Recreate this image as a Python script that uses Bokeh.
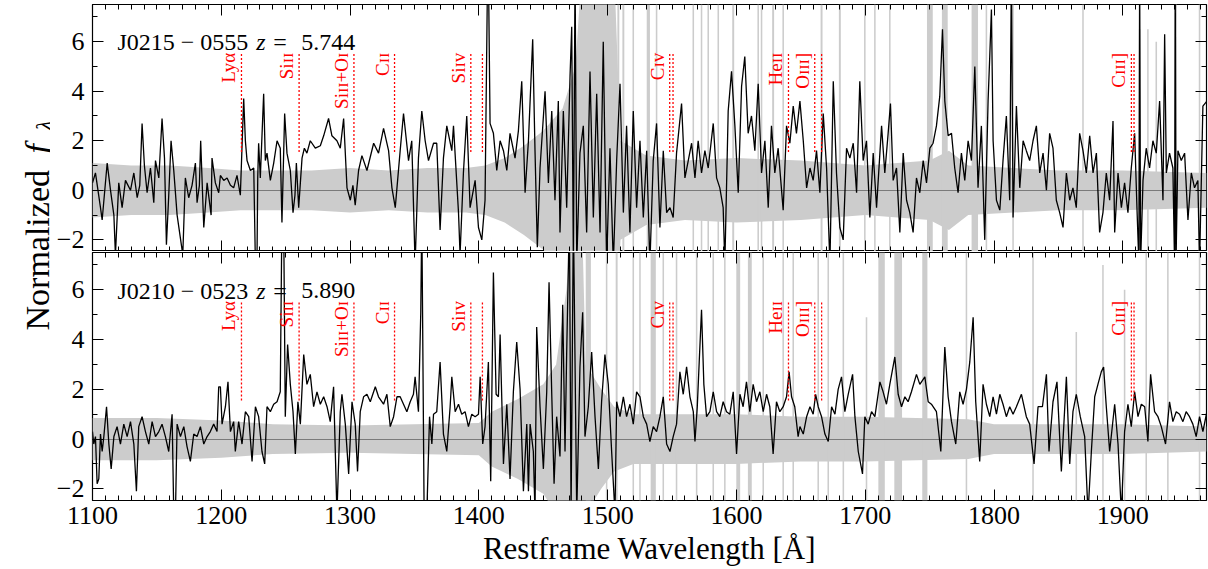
import numpy as np
from bokeh.plotting import figure
from bokeh.models import Range1d, LinearAxis, SingleIntervalTicker, Label
from bokeh.layouts import column, row
from bokeh.embed import file_html
from bokeh.resources import INLINE
from bokeh.core.properties import value

FONT = "Liberation Serif"

# ---------------- data: J0215-0555 (top) ----------------
wl_top = [1100.0,1102.3,1106.2,1107.5,1111.4,1114.0,1116.6,1117.8,1120.4,1123.0,1125.6,1129.5,1132.1,1134.7,1136.7,1138.5,1140.3,1142.4,1145.0,1147.6,1148.9,1151.5,1154.0,1155.9,1157.4,1159.2,1161.0,1163.1,1165.7,1170.1,1172.1,1174.7,1177.3,1179.9,1181.2,1183.0,1184.0,1186.4,1189.0,1192.1,1192.8,1195.4,1198.0,1199.3,1201.9,1204.5,1207.1,1209.6,1212.2,1214.8,1217.4,1218.7,1220.0,1222.6,1225.2,1226.5,1227.7,1228.3,1229.0,1230.3,1232.9,1234.2,1235.5,1238.1,1240.7,1243.3,1245.8,1247.1,1249.2,1251.0,1253.6,1255.7,1257.2,1258.3,1260.1,1262.7,1264.5,1266.5,1269.1,1273.0,1276.9,1279.5,1283.3,1285.9,1289.8,1292.4,1295.0,1297.6,1300.2,1302.2,1304.0,1306.6,1309.2,1313.1,1318.3,1322.1,1326.0,1329.9,1332.5,1335.1,
          1338.9,1341.5,1345.4,1347.9,1350.5,1353.1,1355.7,1358.3,1360.9,1364.8,1367.3,1369.9,1372.5,1375.1,1379.0,1380.3,1384.2,1385.4,1388.0,1390.6,1393.2,1397.1,1399.7,1402.3,1404.8,1406.7,1407.4,1408.7,1411.3,1413.9,1416.5,1419.1,1421.7,1424.2,1428.1,1430.7,1433.3,1435.9,1438.5,1441.8,1443.6,1445.4,1447.5,1451.4,1454.0,1456.6,1459.1,1461.7,1463.0,1465.6,1468.2,1470.8,1472.1,1473.4,1474.7,1476.0,1478.5,1481.1,1483.7,1486.3,1488.9,1491.5,1494.1,1496.6,1499.2,1501.8,1504.4,1507.0,1509.6,1512.2,1514.7,1517.3,1519.9,1522.5,1525.1,1527.7,1530.3,1532.8,1535.4,1538.0,1540.6,1543.2,1545.8,1548.4,1550.9,1553.5,1557.4,1560.0,1562.6,1565.2,1567.8,1570.3,1572.9,1575.5,1578.1,1582.0,1584.6,1587.1,1589.7,1591.0,1593.6,1596.2,1598.8,1601.4,1604.0,1606.5,1609.1,1611.7,1614.3,1616.9,1619.5,1622.1,1624.7,1627.2,1629.8,1632.4,1636.3,1638.9,1641.5,1644.1,1646.6,
          1649.3,1651.9,1654.5,1657.1,1659.6,1662.2,1664.8,1667.4,1670.0,1672.6,1675.2,1677.7,1680.3,1682.9,1685.5,1688.1,1690.7,1693.3,1695.8,1698.4,1701.0,1703.6,1706.2,1708.8,1712.7,1715.2,1717.8,1719.6,1721.7,1724.3,1726.9,1729.5,1732.1,1734.6,1737.2,1739.8,1742.4,1745.0,1747.6,1750.2,1752.7,1755.3,1757.9,1760.0,1761.8,1764.4,1767.0,1769.5,1772.1,1774.7,1777.3,1779.9,1782.5,1785.1,1787.6,1790.2,1792.8,1795.4,1796.7,1798.0,1799.3,1801.9,1804.5,1807.0,1809.6,1812.2,1813.5,1814.8,1817.4,1820.0,1822.6,1825.1,1827.7,1830.3,1832.9,1835.5,1838.1,1840.7,1843.2,1845.8,1848.4,1851.0,1853.6,1856.2,1858.8,1861.3,1863.9,1866.5,1869.1,1871.7,1874.3,1876.9,1879.5,1882.0,1884.6,1887.2,1889.8,1892.4,1893.7,1896.3,1898.9,1901.4,1904.0,1906.6,1909.2,1911.0,1912.5,1913.1,1913.8,1915.7,1918.2,1920.8,1923.4,1926.0,1928.6,1931.2,1932.5,1933.8,1936.3,1938.9,1940.2,1940.7,1941.3,1942.8,1945.4,1948.0,1950.6,1953.2,1955.7,1958.3,1959.6,1962.2,1965.3]
flux_top = [0.3,0.7,-0.7,-1.2,1.1,0.0,-1.0,-2.6,0.3,-0.7,0.4,0.0,0.7,-0.3,0.2,2.7,1.0,-0.1,0.9,-0.5,1.2,0.5,2.9,1.3,-2.2,-0.2,2.0,0.8,-1.0,-2.6,0.5,-0.3,0.2,1.1,-0.5,0.2,2.0,-1.5,0.3,-1.0,1.3,0.3,-0.1,0.6,0.4,0.5,0.2,0.1,0.6,-0.2,3.7,2.0,1.2,0.8,0.9,-3.0,-3.0,0.5,1.9,0.5,3.9,1.2,1.5,0.4,1.1,2.0,1.7,-1.3,3.1,1.5,0.8,-0.9,-0.2,1.1,-0.7,1.3,1.7,1.5,2.0,1.7,1.8,2.2,2.9,2.2,2.0,1.7,2.9,0.1,-0.4,0.2,-0.6,0.8,1.4,0.8,1.9,1.5,2.5,1.6,0.1,-0.7,
            1.6,3.1,1.2,2.0,-3.0,1.3,3.2,2.0,1.2,1.9,1.9,-1.6,1.3,2.6,1.6,2.6,-0.9,-2.6,0.7,3.0,-0.7,0.4,-1.5,-2.0,-0.4,8.5,9.0,2.7,2.3,0.8,2.0,1.6,0.8,2.3,1.3,2.4,4.4,-0.1,2.0,6.1,1.6,-2.3,0.9,4.0,0.3,3.2,-0.4,3.6,-1.7,3.2,-0.7,4.6,6.6,-3.0,9.0,-3.0,1.5,2.6,-1.7,4.8,-1.1,3.9,-1.7,6.0,-3.0,1.7,-3.0,1.2,4.3,-0.9,2.6,-1.7,3.2,-0.7,2.0,-1.1,1.6,-3.0,1.2,2.7,-1.5,1.6,-0.9,-0.7,-1.1,1.5,3.5,0.5,1.2,1.9,0.5,2.0,0.7,1.6,0.9,2.7,0.5,0.1,-0.7,-3.0,3.2,4.8,2.6,-0.1,4.2,5.4,2.3,3.0,1.6,4.3,0.7,2.0,-0.7,2.6,0.7,1.7,-0.8,2.6,1.9,3.4,2.3,
            3.6,2.0,0.1,0.9,0.4,1.6,-0.1,3.1,0.9,-3.0,4.4,0.7,-1.5,-2.0,1.7,1.3,1.9,-0.1,4.4,1.2,2.0,-1.1,1.5,-0.7,2.6,0.7,2.3,3.5,0.4,0.9,-1.7,1.5,-0.4,-0.9,-1.7,0.5,-0.1,1.2,0.3,1.7,1.9,2.6,3.8,6.5,3.6,2.2,2.3,0.9,-0.1,1.5,0.4,2.0,1.2,5.0,0.1,2.6,-2.0,3.6,5.4,7.3,2.0,-0.4,-0.8,1.2,3.0,-0.4,9.0,-1.1,3.4,0.1,2.0,1.6,1.2,2.0,2.6,0.7,1.5,0.0,2.3,1.7,-0.4,-0.9,-1.5,0.7,-0.4,0.1,-0.7,2.3,1.6,0.7,2.2,0.7,1.5,-1.7,-0.9,0.7,-0.4,2.8,-1.7,0.7,-0.7,0.3,-0.9,0.9,2.3,-0.7,-3.0,9.0,-3.0,0.4,1.7,0.9,2.0,1.5,3.6,-0.4,6.3,0.7,1.5,0.9,-3.0,9.0,-3.0,1.6,1.2,1.5,-1.2,0.7,0.1,0.4,-3.0,3.4,3.6]

err_top_wl = [1100,1130,1160,1190,1215,1240,1270,1300,1330,1360,1390,1405,1420,1435,1450,1465,1475,1480,1505,1510,1530,1560,1600,1650,1700,1750,1765,1780,1850,1900,1965]
err_top = [1.1,1.0,1.0,0.9,0.8,0.8,0.8,0.9,0.8,0.9,0.9,1.0,1.3,1.8,2.4,3.3,5.0,9.0,9.0,2.0,1.4,1.2,1.3,1.2,1.0,1.2,1.6,1.0,0.8,0.8,0.7]

sky_top_wl = [1508.3,1512.2,1519.9,1531.6,1538.0,1566.5,1572.9,1578.1,1585.9,1597.5,1616.9,1619.5,1628.5,1636.3,1666.1,1680.3,1699.7,1707.5,1719.1,1750.2,1761.8,1785.1,1794.1,1814.8,1869.1,1913.1,1919.5,1926.0,1941.5,1959.6]
sky_top_h = [9,9,9,9,9,9,9,9,9,9,9,9,9,9,9,9,9,9,9,9,9,9,9,9,9,6.5,6.5,6,9,9]
sky_top_w = [1.5,1.5,1.2,2.5,1.2,1.2,1.2,1.2,1.2,1.5,1.2,1.2,1.5,1.2,1.5,1.5,1.2,1.2,1.2,4.5,4.5,5.0,1.2,1.2,1.2,1.2,1.2,1.2,1.2,1.2]

# ---------------- data: J0210-0523 (bottom) ----------------
wl_bot = [1100.0,1101.0,1102.3,1103.6,1104.9,1106.2,1107.5,1108.8,1110.9,1112.7,1114.5,1116.6,1119.1,1121.7,1124.3,1126.9,1129.5,1132.1,1134.1,1135.9,1138.5,1141.1,1143.7,1146.3,1148.9,1151.5,1154.0,1156.6,1159.2,1161.8,1163.1,1164.4,1165.7,1168.3,1170.9,1173.4,1176.0,1178.6,1181.2,1183.8,1186.4,1189.0,1191.5,1194.1,1196.7,1198.0,1199.3,1200.6,1203.2,1205.2,1207.1,1209.6,1210.9,1213.5,1216.1,1218.7,1221.3,1223.9,1226.5,1229.0,1231.6,1233.7,1235.5,1238.1,1240.7,1243.3,1245.8,1247.1,1248.4,1249.7,1251.5,1253.6,1255.7,1257.5,1259.5,1261.4,1264.0,1266.5,1269.1,1271.7,1274.3,1276.9,1279.5,1282.1,1284.6,1287.2,1289.8,1292.4,1293.7,1296.3,1298.9,1301.5,1304.0,1305.8,1307.9,1310.5,1313.1,1315.7,1319.6,1322.1,1326.0,1328.6,1331.2,1333.8,1336.4,
          1338.9,1341.5,1344.1,1346.7,1349.2,1350.5,1353.1,1354.9,1355.7,1357.5,1359.6,1361.7,1363.5,1364.8,1367.3,1369.9,1372.5,1375.1,1377.7,1379.0,1381.6,1384.2,1386.7,1389.3,1391.9,1394.5,1397.1,1399.7,1401.0,1403.0,1404.8,1407.4,1409.2,1411.3,1413.4,1415.2,1416.5,1419.1,1421.7,1424.2,1426.8,1429.4,1432.0,1434.6,1437.2,1438.5,1439.8,1442.3,1443.6,1444.9,1447.5,1450.1,1452.7,1454.5,1456.6,1458.4,1460.4,1463.0,1465.1,1466.9,1468.2,1470.3,1471.6,1473.4,1476.0,1478.5,1480.6,1482.4,1485.0,1487.6,1490.2,1492.8,1495.3,1497.9,1500.5,1503.1,1505.7,1507.0,1509.6,1512.2,1514.7,1517.3,1519.9,1522.5,1525.1,1527.7,1530.3,1532.8,1535.4,1538.0,1540.6,1543.2,1545.8,1548.4,1550.9,1553.5,1556.1,1558.7,1561.3,1563.9,1566.5,1567.8,1569.6,1571.1,1572.9,1574.7,1576.8,1579.4,1582.0,1584.6,1587.1,1589.7,1592.3,1594.9,1597.5,1600.1,1602.7,1605.2,1607.8,1610.4,1613.0,1615.6,1618.2,1620.8,1623.4,1625.9,1628.5,1631.1,1633.7,1636.3,1638.9,1640.9,1642.8,1645.3,1647.9,
          1649.3,1651.9,1654.5,1657.1,1659.6,1661.5,1663.5,1666.1,1668.7,1671.3,1673.9,1676.5,1679.0,1681.6,1684.2,1686.8,1690.2,1692.0,1694.6,1697.9,1699.7,1702.3,1704.9,1707.5,1711.4,1713.9,1716.5,1719.1,1723.0,1725.6,1728.2,1730.8,1733.3,1735.9,1739.8,1742.4,1746.3,1748.9,1751.4,1755.3,1758.7,1761.8,1764.4,1767.0,1770.3,1773.4,1776.0,1778.6,1781.2,1783.8,1785.8,1788.9,1791.5,1794.1,1796.7,1799.3,1801.9,1804.5,1807.0,1809.6,1812.2,1814.8,1817.4,1821.3,1825.1,1827.7,1831.1,1834.2,1837.6,1840.7,1842.7,1845.8,1848.9,1852.3,1856.2,1858.8,1861.3,1863.9,1867.0,1870.4,1873.0,1875.6,1878.2,1880.7,1883.3,1885.1,1887.2,1889.8,1893.7,1896.3,1898.9,1901.4,1904.0,1906.6,1909.2,1911.8,1914.4,1917.0,1919.5,1921.6,1924.7,1927.3,1929.9,1933.2,1936.3,1938.9,1941.5,1944.1,1946.7,1949.2,1951.8,1954.4,1957.0,1959.6,1962.2,1965.3]
flux_bot = [0.3,-0.2,0.1,-1.8,-1.6,0.2,-0.5,0.1,1.3,-0.2,-1.2,0.1,0.5,-0.2,0.6,0.1,0.7,-0.2,-2.1,0.5,0.9,0.3,-0.2,0.7,0.1,0.3,0.6,0.1,-0.5,1.0,-3.0,-3.0,0.6,0.1,0.5,-0.3,-0.9,0.2,0.1,0.5,-0.2,0.1,0.3,0.6,0.3,2.1,2.1,0.6,1.3,2.3,0.3,0.7,-0.5,0.7,-0.2,1.1,0.9,-0.9,1.3,0.9,-0.5,-1.0,1.3,1.1,1.4,1.5,1.9,9.0,9.0,0.9,3.8,2.2,1.1,-0.6,1.5,0.6,3.4,2.2,2.6,1.3,1.9,1.4,1.7,1.3,0.7,2.1,-3.0,1.1,1.8,0.6,-1.4,1.5,0.6,-1.3,1.1,1.7,1.8,1.5,2.1,1.7,1.4,1.8,0.5,0.9,1.7,
            1.7,1.4,1.1,1.5,1.8,2.5,1.1,5.1,9.0,-3.0,-3.0,0.9,-0.2,1.0,1.1,3.1,0.2,-0.5,1.3,2.5,1.1,1.4,1.0,1.1,0.5,1.0,0.9,1.0,2.5,-0.2,0.5,3.1,-1.7,6.7,1.8,1.7,4.2,-1.0,1.4,-1.6,1.9,3.9,2.0,-2.1,0.6,-2.1,0.6,-0.5,-3.0,4.5,1.3,-1.2,1.9,6.3,1.8,-1.8,0.9,-0.7,5.4,-0.5,3.5,9.0,-3.0,9.0,-3.0,2.9,5.1,0.1,1.3,3.5,0.9,-1.2,1.5,3.4,2.2,-0.5,-3.0,1.5,0.9,1.7,0.9,1.4,0.6,1.9,1.7,0.9,0.6,-0.1,0.5,0.3,0.9,1.7,-0.2,-0.5,0.1,0.6,2.7,1.8,2.9,1.7,1.1,-0.1,1.3,3.1,5.2,2.2,0.9,1.1,1.9,1.1,0.9,1.5,1.1,1.0,1.9,-0.6,1.8,1.3,2.3,1.1,2.2,1.5,1.9,1.1,1.8,1.3,-0.6,1.5,1.1,1.3,1.7,2.7,1.7,1.3,0.1,
            0.5,0.2,0.9,1.3,1.0,1.8,1.3,0.9,0.2,-0.1,1.3,1.0,2.0,2.5,1.1,1.8,2.6,0.9,-0.5,-1.4,0.9,0.6,1.1,0.9,2.3,1.9,1.4,2.2,3.3,1.8,1.3,1.7,1.5,1.9,2.6,2.2,2.5,1.5,1.4,1.1,-0.5,3.7,1.7,0.7,-0.2,1.9,1.4,2.0,3.1,4.9,1.5,-0.9,2.2,1.4,0.9,1.7,1.0,1.8,1.4,0.9,1.3,1.0,1.3,1.8,0.9,0.6,-1.0,1.3,1.3,2.6,-0.5,1.5,2.3,-1.3,2.5,-1.0,1.1,1.8,0.9,0.1,-3.0,-0.5,1.7,2.2,2.7,2.9,1.3,-0.5,1.4,-0.2,-3.0,0.3,1.4,0.5,1.9,0.9,1.4,1.3,-0.1,2.6,1.1,0.9,0.5,-0.2,1.5,0.7,1.1,1.0,0.7,1.1,0.9,0.6,0.1,0.9,0.3,1.1]

err_bot_wl = [1100,1150,1200,1240,1300,1350,1400,1410,1430,1450,1460,1468,1472,1480,1483,1495,1505,1520,1600,1650,1700,1780,1800,1900,1965]
err_bot = [0.85,0.85,0.75,0.6,0.55,0.6,0.65,1.1,1.6,2.2,3.0,6.0,9.0,9.0,3.0,2.0,1.3,1.0,1.0,0.9,0.9,0.8,0.6,0.6,0.5]

sky_bot_wl = [1485.0,1499.2,1507.0,1519.9,1525.1,1535.4,1543.2,1553.5,1569.1,1582.0,1591.0,1601.4,1610.4,1620.8,1636.3,1644.1,1663.5,1671.3,1683.0,1701.0,1712.7,1725.6,1746.3,1778.6,1830.3,1863.9,1884.6,1901.4,1918.2,1935.0,1959.6]
sky_bot_h = [9,9,9,9,9,9,9,9,9,9,9,9,9,9,9,9,9,9,9,4.9,9,9,9,9,9,4.3,7.0,6.0,9,9,9]
sky_bot_w = [4.0,1.2,1.5,1.2,1.2,4.0,1.2,1.2,1.2,1.2,1.2,3.0,3.0,1.2,1.2,1.2,1.2,1.2,1.2,1.2,5.0,6.0,4.0,1.2,1.2,1.2,1.2,1.2,1.2,1.2,1.2]

# ---------------- emission line markers ----------------
line_wl = [1215.67,1260.42,1303.0,1334.53,1393.76,1402.77,1548.19,1550.77,1640.42,1660.81,1666.15,1906.68,1908.73]
label_wl = [1215.67,1260.42,1303.0,1334.53,1393.76,1548.19,1640.42,1660.81,1906.68]
label_txt = ["Ly\u03b1","Si\u026a\u026a","Si\u026a\u026a+O\u026a","C\u026a\u026a","Si\u026a\u1d20","C\u026a\u1d20","He\u026a\u026a","O\u026a\u026a\u026a]","C\u026a\u026a\u026a]"]

names = [("J0215 \u2212 0555", "5.744"), ("J0210 \u2212 0523", "5.890")]

X0, X1 = 1100, 1965
Y0, Y1 = -2.47, 7.5
FW = 1114
xr = Range1d(X0, X1)


def add_axes(p, xlabels):
    for loc in ["below", "above"]:
        ax = LinearAxis(ticker=SingleIntervalTicker(interval=100, num_minor_ticks=10))
        lab = xlabels and loc == "below"
        ax.major_label_text_font = FONT
        if lab:
            ax.major_label_text_font_size = "26px"
            ax.major_label_standoff = 6
            ax.major_label_text_color = "black"
            ax.axis_label = "Restframe Wavelength [\u00c5]"
            ax.axis_label_text_font = FONT
            ax.axis_label_text_font_size = "31px"
            ax.axis_label_text_font_style = "normal"
            ax.axis_label_text_color = "black"
            ax.axis_label_standoff = 4
        else:
            ax.major_label_text_color = None
            ax.major_label_text_font_size = "1px"
            ax.major_label_standoff = 0
        p.add_layout(ax, loc)
    for loc in ["left", "right"]:
        ax = LinearAxis(ticker=SingleIntervalTicker(interval=2, num_minor_ticks=2))
        ax.major_label_text_font = FONT
        if loc == "left":
            ax.major_label_text_font_size = "26px"
            ax.major_label_standoff = 8
            ax.major_label_text_color = "black"
            ax.major_label_overrides = {-2: "\u22122", 0: "0", 2: "2", 4: "4", 6: "6"}
        else:
            ax.major_label_text_color = None
            ax.major_label_text_font_size = "1px"
            ax.major_label_standoff = 0
        p.add_layout(ax, loc)
    for ax in p.axis:
        ax.axis_line_color = None
        ax.major_tick_in = 11
        ax.major_tick_out = 0
        ax.minor_tick_in = 5
        ax.minor_tick_out = 0
        ax.major_tick_line_color = "black"
        ax.minor_tick_line_color = "black"
        ax.major_tick_line_width = 1
        ax.minor_tick_line_width = 1


def panel(wl, fl, ewl, er, swl, sh, sw, name, zval, bottom):
    p = figure(x_range=xr, y_range=Range1d(Y0, Y1), frame_width=FW,
               frame_height=248 if bottom else 247,
               output_backend="svg", toolbar_location=None,
               x_axis_location=None, y_axis_location=None,
               min_border_left=42, min_border_right=2,
               min_border_top=1 if bottom else 4, min_border_bottom=0,
               background_fill_color="white", border_fill_color="white",
               outline_line_color="black", outline_line_width=1.2)
    p.xgrid.visible = False
    p.ygrid.visible = False
    add_axes(p, bottom)
    er = np.array(er, dtype=float)
    p.varea(x=ewl, y1=-er, y2=er, fill_color="#cccccc")
    sh = np.array(sh, dtype=float)
    p.vbar(x=swl, width=sw, top=sh, bottom=-sh, fill_color="#cccccc", line_color=None)
    p.hspan(y=[0], line_color="#7a7a7a", line_width=1)
    p.line(wl, fl, line_color="black", line_width=1.3)
    p.segment(x0=line_wl, x1=line_wl, y0=1.55, y1=5.55, line_color="red", line_dash="2 2", line_width=1.3)
    p.text(x=label_wl, y=5.55, text=label_txt, angle=np.pi / 2, text_align="right",
           text_baseline="bottom", x_offset=-2, text_color="red",
           text_font=value(FONT), text_font_size="19px")
    ybase = 5.97
    for txt, xx, style in [(name, 1119.4, "normal"), ("z", 1227.2, "italic"),
                           ("=", 1240.4, "normal"), (zval, 1262.1, "normal")]:
        p.add_layout(Label(x=xx, y=ybase, text=txt, text_font=FONT, text_font_size="24px",
                           text_font_style=style, text_color="black", text_baseline="alphabetic"))
    return p


p_top = panel(wl_top, flux_top, err_top_wl, err_top, sky_top_wl, sky_top_h, sky_top_w,
              names[0][0], names[0][1], False)
p_bot = panel(wl_bot, flux_bot, err_bot_wl, err_bot, sky_bot_wl, sky_bot_h, sky_bot_w,
              names[1][0], names[1][1], True)

# y-axis label column
lab = figure(width=50, height=569, x_range=Range1d(0, 50), y_range=Range1d(569, 0),
             output_backend="svg", toolbar_location=None, x_axis_location=None,
             y_axis_location=None, min_border=0, outline_line_color=None,
             background_fill_color="white", border_fill_color="white")
lab.xgrid.visible = False
lab.ygrid.visible = False
lab.text(x=[37], y=[330], text=["Normalized"], angle=np.pi / 2, text_align="left",
         text_baseline="alphabetic", text_font=value(FONT), text_font_size="34px")
lab.text(x=[37], y=[153], text=["f"], angle=np.pi / 2, text_align="left",
         text_baseline="alphabetic", text_font=value(FONT), text_font_size="34px",
         text_font_style="italic")
lab.text(x=[44], y=[130], text=["\u03bb"], angle=np.pi / 2, text_align="left",
         text_baseline="alphabetic", text_font=value(FONT), text_font_size="23px",
         text_font_style="italic")

layout = row(lab, column(p_top, p_bot, spacing=0), spacing=0)
open("out.html", "w").write(file_html(layout, INLINE))
